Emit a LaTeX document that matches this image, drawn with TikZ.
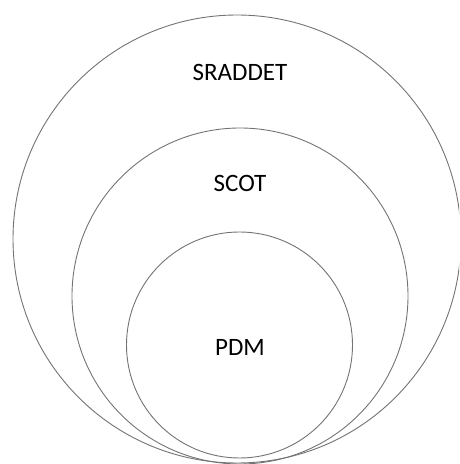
\documentclass[tikz,border=0pt]{standalone}
\usepackage{fontspec}
\setmainfont{Carlito}
\begin{document}
\begin{tikzpicture}[x=1pt,y=1pt,
  ring/.style={draw=black!55,line width=0.9pt,circle,inner sep=0pt},
  lbl/.style={font=\fontsize{25}{30}\selectfont,text=black,inner sep=0pt}]
\useasboundingbox (0,0) rectangle (459,464);
\clip (0,0) rectangle (459,464);
\node[ring,minimum size=448pt] (outer) at (237,225) {};
\node[ring,minimum size=336pt] (middle) at (240,168) {};
\node[ring,minimum size=226pt] (inner) at (239.5,119) {};
\node[lbl] (sraddet) at (240,392) {SRADDET};
\node[lbl] (scot) at (240,281) {SCOT};
\node[lbl] (pdm) at (240,117) {PDM};
\end{tikzpicture}
\end{document}
